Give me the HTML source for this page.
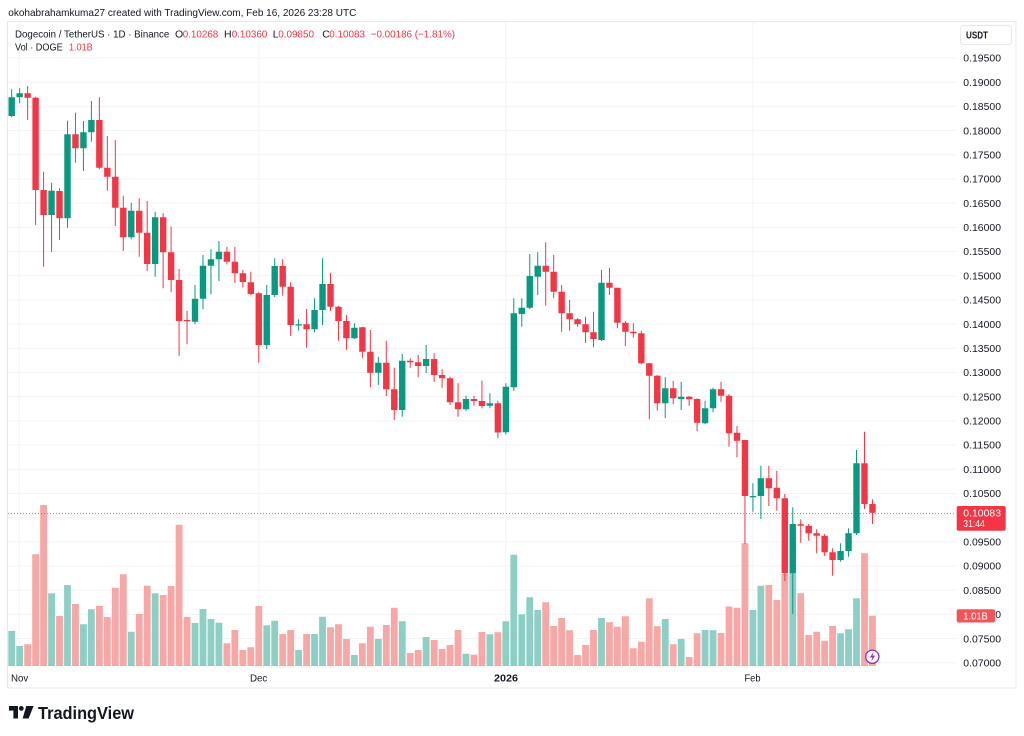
<!DOCTYPE html>
<html><head><meta charset="utf-8"><style>
html,body{margin:0;padding:0;background:#fff;}
svg{display:block;font-family:"Liberation Sans",Arial,sans-serif;}
</style></head><body>
<svg width="1024" height="736" viewBox="0 0 1024 736" xmlns="http://www.w3.org/2000/svg">
<rect width="1024" height="736" fill="#fff"/>
<text x="8.3" y="16" font-size="10.5" fill="#131722" textLength="348" lengthAdjust="spacingAndGlyphs">okohabrahamkuma27 created with TradingView.com, Feb 16, 2026 23:28 UTC</text>
<rect x="7.5" y="21.5" width="1008.5" height="666.5" fill="none" stroke="#e6e8ee" stroke-width="1"/>
<g stroke="#f2f3f6" stroke-width="1">
<path d="M8 58H956M8 82.19H956M8 106.38H956M8 130.57H956M8 154.76H956M8 178.95H956M8 203.14H956M8 227.33H956M8 251.52H956M8 275.71H956M8 299.9H956M8 324.09H956M8 348.28H956M8 372.47H956M8 396.66H956M8 420.85H956M8 445.04H956M8 469.23H956M8 493.42H956M8 517.61H956M8 541.8H956M8 565.99H956M8 590.18H956M8 614.37H956M8 638.56H956M8 662.75H956"/>
<path d="M19.3 22V666M258.8 22V666M505.8 22V666M752.9 22V666"/>
</g>
<path fill="none" stroke="#8dcfc5" stroke-width="6.8" d="M11.7 666V631M19.67 666V646M51.55 666V593.3M67.49 666V585M83.43 666V624.3M91.4 666V609.3M131.25 666V631.7M155.16 666V593.3M195.01 666V623M202.98 666V609M210.95 666V619M218.92 666V622.7M266.74 666V625.3M274.71 666V620.7M298.62 666V650M314.56 666V634M322.53 666V616.7M354.41 666V655M378.32 666V639M402.23 666V621.3M426.14 666V637M465.99 666V653.7M489.9 666V634.3M505.84 666V621.3M513.81 666V554.7M521.78 666V614.3M529.75 666V597.3M537.72 666V610M601.48 666V618M665.24 666V619M681.18 666V639M705.09 666V630M713.06 666V630.3M752.91 666V610M760.88 666V585.7M792.76 666V573.3M840.58 666V633.3M848.55 666V629.3M856.52 666V598.3"/>
<path fill="none" stroke="#f6a7a6" stroke-width="6.8" d="M27.64 666V644.3M35.61 666V554.3M43.58 666V505M59.52 666V616M75.46 666V604M99.37 666V606M107.34 666V617M115.31 666V587.7M123.28 666V574.3M139.22 666V614M147.19 666V585.7M163.13 666V595M171.1 666V586M179.07 666V524.7M187.04 666V617M226.89 666V643.3M234.86 666V630M242.83 666V650M250.8 666V647.3M258.77 666V606M282.68 666V634M290.65 666V630M306.59 666V634M330.5 666V627.3M338.47 666V624.3M346.44 666V639M362.38 666V643.3M370.35 666V626.7M386.29 666V625M394.26 666V607.7M410.2 666V653M418.17 666V650M434.11 666V640M442.08 666V649M450.05 666V645M458.02 666V630M473.96 666V654.7M481.93 666V632M497.87 666V632.3M545.69 666V602.3M553.66 666V626M561.63 666V618M569.6 666V630.3M577.57 666V655M585.54 666V645M593.51 666V630M609.45 666V622.3M617.42 666V626.7M625.39 666V616.3M633.36 666V648.3M641.33 666V641.7M649.3 666V598.3M657.27 666V626.3M673.21 666V644.3M689.15 666V657M697.12 666V633.3M721.03 666V633M729 666V606.5M736.97 666V607.7M744.94 666V543.3M768.85 666V585M776.82 666V600M784.79 666V574M800.73 666V593.3M808.7 666V635M816.67 666V631.7M824.64 666V640.7M832.61 666V626M864.49 666V553.3M872.46 666V615.7"/>
<path d="M8 513.6H956" stroke="#F23645" stroke-width="1" stroke-dasharray="1 2" opacity="0.8"/>
<path fill="none" stroke="#089981" stroke-width="1" d="M11.7 89.3V117.3M19.67 88.3V103.3M51.55 182.7V251.7M67.49 120.7V227.7M83.43 121V171M91.4 101V141.7M131.25 202.7V239.3M155.16 211.7V276.7M195.01 285V324.3M202.98 255V309.3M210.95 249.3V294.3M218.92 241V281M266.74 285V349.3M274.71 258.3V297.3M298.62 319.3V330.7M314.56 298.3V332.3M322.53 258.3V325M354.41 323.3V339M378.32 356.7V385M402.23 354V416.7M426.14 345V373.3M465.99 395.7V410.7M489.9 393.3V408.3M505.84 383.3V434.3M513.81 298.3V391M521.78 298.3V326.7M529.75 254V309M537.72 252.3V295M601.48 270V341M665.24 377.3V418.3M681.18 381.7V410M705.09 400.7V424M713.06 387.7V412.3M752.91 483.3V511.7M760.88 465.7V519M792.76 507.3V614M840.58 543.3V561.7M848.55 528.3V556.7M856.52 450V535"/>
<path fill="none" stroke="#F23645" stroke-width="1" d="M27.64 86V120M35.61 96.7V225M43.58 171.7V266.7M59.52 188.3V240M75.46 112.7V162.7M99.37 97.3V169.3M107.34 136V190.7M115.31 140V226M123.28 195.7V251M139.22 198.3V256.7M147.19 201V271M163.13 213.3V288.3M171.1 226.7V292.3M179.07 269V355.7M187.04 311V344.3M226.89 246.7V264.3M234.86 246.7V282.7M242.83 270V287.5M250.8 271.7V295M258.77 291.7V362.7M282.68 259.3V295.7M290.65 282.3V336M306.59 309V347.7M330.5 272.7V311M338.47 306V340.7M346.44 315V350M362.38 326.7V358.3M370.35 330V387.3M386.29 340.7V396M394.26 367.7V420M410.2 358.3V367.7M418.17 355V377.3M434.11 353.3V381.7M442.08 369.3V387.7M450.05 376.7V405M458.02 383.3V416.7M473.96 395.7V405.7M481.93 380.7V408.3M497.87 400.7V438.3M545.69 242.3V305.7M553.66 255V298.3M561.63 285V331.7M569.6 300V330.7M577.57 318.3V326.7M585.54 316.7V342.7M593.51 311.7V347.3M609.45 267.7V295M617.42 287.7V328.3M625.39 321V346M633.36 323.3V337.7M641.33 330.7V364.3M649.3 362.7V419.3M657.27 375V410.7M673.21 381V404.3M689.15 396V405.7M697.12 398.3V431M721.03 381.7V401.7M729 394.3V446.7M736.97 426V457.3M744.94 440V544M768.85 465.7V506M776.82 470.7V510.7M784.79 494V581M800.73 519.3V542.7M808.7 524V540.7M816.67 529.3V553.3M824.64 534V556M832.61 548.3V575.7M864.49 431.7V509M872.46 499.3V524"/>
<path fill="none" stroke="#089981" stroke-width="6.4" d="M11.7 97.3V116M19.67 93.3V97.3M51.55 190.7V215M67.49 134.3V218.3M83.43 132.3V148.3M91.4 120V132.3M131.25 210.7V237.3M155.16 217.3V264M195.01 298.7V321.7M202.98 265.7V298.7M210.95 259.3V265.7M218.92 251.7V259.3M266.74 295V345M274.71 266V295M298.62 324.3V325.5M314.56 310V329.3M322.53 284V310M354.41 327.7V338.3M378.32 362.7V372.7M402.23 360.7V410M426.14 359V366M465.99 399V409.3M489.9 403.3V405.7M505.84 386.7V432.3M513.81 313.3V387.3M521.78 307.7V314M529.75 276V307.7M537.72 265.7V276.7M601.48 282.7V340M665.24 388.3V403.3M681.18 396.7V399M705.09 408.3V423.3M713.06 389.3V408.3M752.91 496V497.2M760.88 478.3V496M792.76 524V573.3M840.58 551V560M848.55 533.3V551M856.52 463.3V533.3"/>
<path fill="none" stroke="#F23645" stroke-width="6.4" d="M27.64 93.3V97.7M35.61 97.7V190M43.58 190V215M59.52 191V218.3M75.46 134.3V148.3M99.37 120V167.7M107.34 167.7V176.7M115.31 176.7V207.7M123.28 207.7V237.3M139.22 210.7V232.7M147.19 232.7V264M163.13 217.3V252.3M171.1 252.3V280M179.07 280V321M187.04 320V321.3M226.89 251.7V261.7M234.86 261.7V273.3M242.83 273.3V282M250.8 282.3V294M258.77 293.3V345M282.68 266V286.7M290.65 286.7V325M306.59 324.3V329.3M330.5 284V306.7M338.47 306.7V321M346.44 321V338.3M362.38 327.3V351.7M370.35 351.7V372.7M386.29 362.7V389.3M394.26 389.3V410M410.2 360.7V362.3M418.17 362.3V366M434.11 359V375M442.08 375V378.3M450.05 378.3V402.3M458.02 402.3V409.3M473.96 399V401M481.93 401V406M497.87 403.3V432.5M545.69 265.7V271.7M553.66 271.7V291.7M561.63 291.7V313.3M569.6 313.3V319.3M577.57 319.3V324.3M585.54 324.3V332.3M593.51 332.3V339M609.45 282.7V287.7M617.42 287.7V322.7M625.39 322.7V331.7M633.36 331.7V333.3M641.33 333.3V363.3M649.3 363.3V375.7M657.27 375.7V403.3M673.21 388.3V398.3M689.15 396.7V399.3M697.12 399V422.7M721.03 389.3V395.7M729 395.7V433.3M736.97 432.7V440.7M744.94 440V496M768.85 478.3V488.3M776.82 487.7V498.3M784.79 498.3V573.3M800.73 524.3V525.7M808.7 525.7V533.3M816.67 533.3V535.7M824.64 535.7V552.3M832.61 552.3V560M864.49 463.3V504M872.46 504V512.7"/>
<circle cx="872.3" cy="656.7" r="6.6" fill="#fff" stroke="#9c27b0" stroke-width="1.3"/>
<path d="M873.6 651.8L869.9 657.5H872.4L871.2 661.6L875 655.6H872.5Z" fill="#9c27b0"/>
<g font-size="10.5" fill="#131722">
<text x="15" y="37.3" textLength="154.3" lengthAdjust="spacingAndGlyphs">Dogecoin / TetherUS · 1D · Binance</text>
<text x="175" y="37.3">O</text>
<text x="224" y="37.3">H</text>
<text x="272.7" y="37.3">L</text>
<text x="322.3" y="37.3">C</text>
<text x="15" y="50.7" textLength="47.7" lengthAdjust="spacingAndGlyphs">Vol · DOGE</text>
</g>
<g font-size="10.5" fill="#F23645">
<text x="182.7" y="37.3" textLength="35.6" lengthAdjust="spacingAndGlyphs">0.10268</text>
<text x="231.7" y="37.3" textLength="35.6" lengthAdjust="spacingAndGlyphs">0.10360</text>
<text x="278.3" y="37.3" textLength="35.7" lengthAdjust="spacingAndGlyphs">0.09850</text>
<text x="329.3" y="37.3" textLength="35.7" lengthAdjust="spacingAndGlyphs">0.10083</text>
<text x="370.7" y="37.3" textLength="84.3" lengthAdjust="spacingAndGlyphs">−0.00186 (−1.81%)</text>
<text x="69" y="50.7" textLength="23.7" lengthAdjust="spacingAndGlyphs">1.01B</text>
</g>
<rect x="960.5" y="25.5" width="51" height="19" rx="3" fill="#fff" stroke="#e6e8ee"/>
<text x="966" y="38.6" font-size="10" font-weight="bold" fill="#131722" textLength="22" lengthAdjust="spacingAndGlyphs">USDT</text>
<g font-size="10" fill="#131722">
<text x="963.3" y="61.7" textLength="37.7" lengthAdjust="spacingAndGlyphs">0.19500</text>
<text x="963.3" y="85.9" textLength="37.7" lengthAdjust="spacingAndGlyphs">0.19000</text>
<text x="963.3" y="110.1" textLength="37.7" lengthAdjust="spacingAndGlyphs">0.18500</text>
<text x="963.3" y="134.3" textLength="37.7" lengthAdjust="spacingAndGlyphs">0.18000</text>
<text x="963.3" y="158.5" textLength="37.7" lengthAdjust="spacingAndGlyphs">0.17500</text>
<text x="963.3" y="182.7" textLength="37.7" lengthAdjust="spacingAndGlyphs">0.17000</text>
<text x="963.3" y="206.8" textLength="37.7" lengthAdjust="spacingAndGlyphs">0.16500</text>
<text x="963.3" y="231" textLength="37.7" lengthAdjust="spacingAndGlyphs">0.16000</text>
<text x="963.3" y="255.2" textLength="37.7" lengthAdjust="spacingAndGlyphs">0.15500</text>
<text x="963.3" y="279.4" textLength="37.7" lengthAdjust="spacingAndGlyphs">0.15000</text>
<text x="963.3" y="303.6" textLength="37.7" lengthAdjust="spacingAndGlyphs">0.14500</text>
<text x="963.3" y="327.8" textLength="37.7" lengthAdjust="spacingAndGlyphs">0.14000</text>
<text x="963.3" y="352" textLength="37.7" lengthAdjust="spacingAndGlyphs">0.13500</text>
<text x="963.3" y="376.2" textLength="37.7" lengthAdjust="spacingAndGlyphs">0.13000</text>
<text x="963.3" y="400.4" textLength="37.7" lengthAdjust="spacingAndGlyphs">0.12500</text>
<text x="963.3" y="424.6" textLength="37.7" lengthAdjust="spacingAndGlyphs">0.12000</text>
<text x="963.3" y="448.7" textLength="37.7" lengthAdjust="spacingAndGlyphs">0.11500</text>
<text x="963.3" y="472.9" textLength="37.7" lengthAdjust="spacingAndGlyphs">0.11000</text>
<text x="963.3" y="497.1" textLength="37.7" lengthAdjust="spacingAndGlyphs">0.10500</text>
<text x="963.3" y="545.5" textLength="37.7" lengthAdjust="spacingAndGlyphs">0.09500</text>
<text x="963.3" y="569.7" textLength="37.7" lengthAdjust="spacingAndGlyphs">0.09000</text>
<text x="963.3" y="593.9" textLength="37.7" lengthAdjust="spacingAndGlyphs">0.08500</text>
<text x="963.3" y="618.1" textLength="37.7" lengthAdjust="spacingAndGlyphs">0.08000</text>
<text x="963.3" y="642.3" textLength="37.7" lengthAdjust="spacingAndGlyphs">0.07500</text>
<text x="963.3" y="666.4" textLength="37.7" lengthAdjust="spacingAndGlyphs">0.07000</text>
</g>
<rect x="956.7" y="506" width="49" height="24.7" rx="2" fill="#F23645"/>
<text x="963.3" y="516.6" font-size="10" fill="#fff" textLength="37.7" lengthAdjust="spacingAndGlyphs">0.10083</text>
<text x="963.3" y="527.2" font-size="10" fill="#fff" textLength="21.5" lengthAdjust="spacingAndGlyphs">31:44</text>
<rect x="956.7" y="609.3" width="38.3" height="13.2" rx="2" fill="#f05659"/>
<text x="963.3" y="619.6" font-size="10" fill="#fff" textLength="24.5" lengthAdjust="spacingAndGlyphs">1.01B</text>
<g font-size="10.5" fill="#131722">
<text x="11" y="681.5" textLength="17.3" lengthAdjust="spacingAndGlyphs">Nov</text>
<text x="250" y="681.5" textLength="17.3" lengthAdjust="spacingAndGlyphs">Dec</text>
<text x="494" y="681.5" font-weight="bold" textLength="24" lengthAdjust="spacingAndGlyphs">2026</text>
<text x="744.5" y="681.5" textLength="16" lengthAdjust="spacingAndGlyphs">Feb</text>
</g>
<g fill="#131722">
<path d="M9 706H18V718.5H13.4V710.6H9Z"/>
<circle cx="21.3" cy="708.4" r="2.4"/>
<path d="M26.3 706H33.6L28.6 718.5H22.6Z"/>
<text x="38" y="719" font-size="17.5" font-weight="bold" textLength="96" lengthAdjust="spacingAndGlyphs">TradingView</text>
</g>
</svg>
</body></html>
